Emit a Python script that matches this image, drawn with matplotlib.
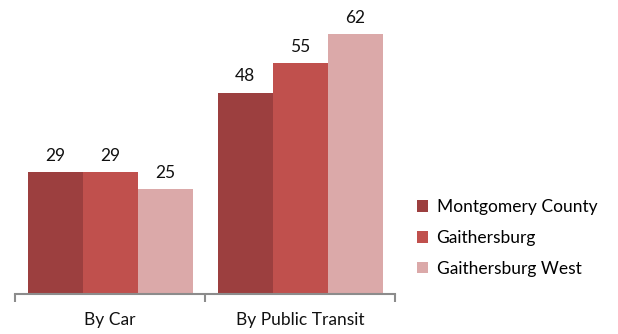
import numpy as np
import matplotlib.pyplot as plt

# Datos
categorias = ["By Car", "By Public Transit"]
series = ["Montgomery County", "Gaithersburg", "Gaithersburg West"]
montgomery = [29, 48]
gaithersburg = [29, 55]
gaith_west = [25, 62]
colores = ["#9C3F3F", "#C0504D", "#DBA9A9"]

plt.rcParams['font.family'] = ['Lato', 'DejaVu Sans']
tam = 12.5

fig = plt.figure(figsize=(6.18, 3.34), dpi=100)
ax = fig.add_axes([15 / 618, 40 / 334, 380 / 618, 284 / 334])

x = np.arange(len(categorias))
ancho = 55 / 190
valores = [montgomery, gaithersburg, gaith_west]
for i, (nombre, vals, col) in enumerate(zip(series, valores, colores)):
    barras = ax.bar(x + (i - 1) * ancho, vals, ancho, color=col, label=nombre)
    for b, v in zip(barras, vals):
        ax.annotate(str(v), (b.get_x() + b.get_width() / 2, v),
                    xytext=(0, 6), textcoords="offset points",
                    ha="center", va="bottom", fontsize=tam, color="#111111")

ax.set_xlim(-0.5, 1.5)
ax.set_ylim(0, 284 / ((294 - 34) / 62))
ax.set_yticks([])
for s in ["top", "right", "left"]:
    ax.spines[s].set_visible(False)
ax.spines["bottom"].set_color("#8C8C8C")
ax.spines["bottom"].set_linewidth(1.5)

ax.set_xticks(x)
ax.set_xticklabels(categorias, fontsize=tam, color="#111111")
ax.tick_params(axis="x", which="major", length=0, pad=13)
ax.set_xticks([-0.5, 0.5, 1.5], minor=True)
ax.tick_params(axis="x", which="minor", length=6, width=1.5, color="#8C8C8C", direction="out")

fig.legend(loc="center left", bbox_to_anchor=(401 / 618, 1 - 238 / 334),
           frameon=False, fontsize=tam, handlelength=0.65, handleheight=0.65,
           labelspacing=0.85, handletextpad=0.5)

fig.savefig("out.png", dpi=100)
